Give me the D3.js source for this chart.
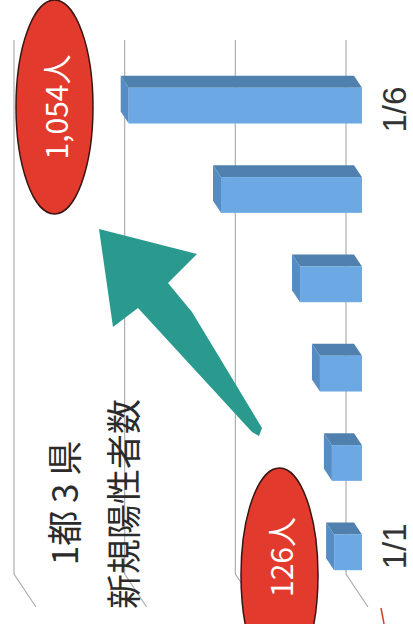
<!DOCTYPE html>
<html>
<head>
<meta charset="utf-8">
<script src="https://cdnjs.cloudflare.com/ajax/libs/d3/7.8.5/d3.min.js"></script>
<style>
  html, body { margin: 0; padding: 0; background: #fff; }
  svg { display: block; }
  text { font-family: "Noto Sans CJK JP", "Noto Sans", sans-serif; }
</style>
</head>
<body>
<svg></svg>
<script>
const dates = ["1/1", "1/2", "1/3", "1/4", "1/5", "1/6"];
const cases = [126, 136, 190, 280, 637, 1054];
const gridValues = [0, 500, 1000, 1500];
const tickLabels = ["1/1", "1/6"];
const titleLines = ["1都 3 県", "新規陽性者数"];
const callouts = [
  { label: "1,054人", date: "1/6" },
  { label: "126人", date: "1/1" }
];

const width = 413, height = 624;
const svg = d3.select("svg").attr("width", width).attr("height", height);

// the whole chart was scanned on its side, so values run right to left
const x = d3.scaleLinear().domain([0, 1500]).range([362, 30]);
const y = d3.scaleBand().domain(dates.slice().reverse()).range([61, 597]).paddingInner(0.6).paddingOuter(0.3);

// 3d offsets: bar depth, and the wall behind it
const depth = { x: -8, y: -12 };
const wall = { x: -16, y: -26 };
const floor = { x: 22, y: 33 };

// gridlines on the back wall with the floor edge at the bottom
const grid = svg.append("g").attr("fill", "none").attr("stroke", "#aeaeae").attr("stroke-width", 1.2);
grid.selectAll("path")
  .data(gridValues)
  .enter()
  .append("path")
  .attr("d", d => {
    const gx = x(d) + wall.x;
    return `M${gx},40 L${gx},574 L${gx + floor.x},${574 + floor.y}`;
  });

// bars
const bars = svg.append("g").selectAll("g").data(dates).enter().append("g");

bars.append("path") // top side of the picture
  .attr("fill", "#4f80ae")
  .attr("d", (d, i) => {
    const x0 = x(0), x1 = x(cases[i]), t = y(d);
    return `M${x1},${t} L${x0},${t} L${x0 + depth.x},${t + depth.y} L${x1 + depth.x},${t + depth.y} Z`;
  });

bars.append("path") // end of the bar
  .attr("fill", "#568cc4")
  .attr("d", (d, i) => {
    const x1 = x(cases[i]), t = y(d), b = t + y.bandwidth();
    return `M${x1},${t} L${x1},${b} L${x1 + depth.x},${b + depth.y} L${x1 + depth.x},${t + depth.y} Z`;
  });

bars.append("rect") // front
  .attr("fill", "#6ca9e4")
  .attr("x", (d, i) => x(cases[i]))
  .attr("y", d => y(d))
  .attr("width", (d, i) => x(0) - x(cases[i]))
  .attr("height", y.bandwidth());

// tick labels, only first and last are printed
svg.append("g").selectAll("text")
  .data(tickLabels)
  .enter()
  .append("text")
  .attr("transform", d => `translate(394,${y(d) + y.bandwidth() / 2 + (d === "1/1" ? -6 : 4)}) rotate(-90)`)
  .attr("text-anchor", "middle")
  .attr("dominant-baseline", "central")
  .attr("font-size", 33)
  .attr("fill", "#333")
  .style("font-family", "'Liberation Sans', sans-serif")
  .text(d => d);

// arrow
const arrow = [[99, 229], [197, 254], [168, 283], [192, 312], [262, 428], [259, 436], [252, 432], [138, 308], [113, 327]];
svg.append("path")
  .attr("d", d3.line()(arrow) + "Z")
  .attr("fill", "#2a9a8f");

// red callouts
const ellipse = { "1/6": [54.5, 107], "1/1": [279.5, 575] };
const textY = { "1/6": 107, "1/1": 557 };
const co = svg.append("g").selectAll("g").data(callouts).enter().append("g");
co.append("ellipse")
  .attr("cx", d => ellipse[d.date][0])
  .attr("cy", d => ellipse[d.date][1])
  .attr("rx", 38.5)
  .attr("ry", 107)
  .attr("fill", "#e23a2c")
  .attr("stroke", "#3a1512")
  .attr("stroke-width", 1.5);
co.append("text")
  .attr("transform", d => `translate(${ellipse[d.date][0]},${textY[d.date]}) rotate(-90)`)
  .attr("text-anchor", "middle")
  .attr("dominant-baseline", "central")
  .attr("font-size", 30)
  .attr("fill", "#fff")
  .text(d => d.label);

// title
svg.append("g").selectAll("text")
  .data(titleLines)
  .enter()
  .append("text")
  .attr("transform", (d, i) => `translate(${[62, 121][i]},${[503, 504][i]}) rotate(-90)`)
  .attr("text-anchor", "middle")
  .attr("dominant-baseline", "central")
  .attr("font-size", 35)
  .attr("fill", "#2b2b2b")
  .text(d => d);

// red scrap at the bottom edge
svg.append("path")
  .attr("d", d3.line()([[381, 608], [384, 624]]))
  .attr("stroke", "#e23a2c")
  .attr("stroke-width", 1.5)
  .attr("fill", "none");
</script>
</body>
</html>
